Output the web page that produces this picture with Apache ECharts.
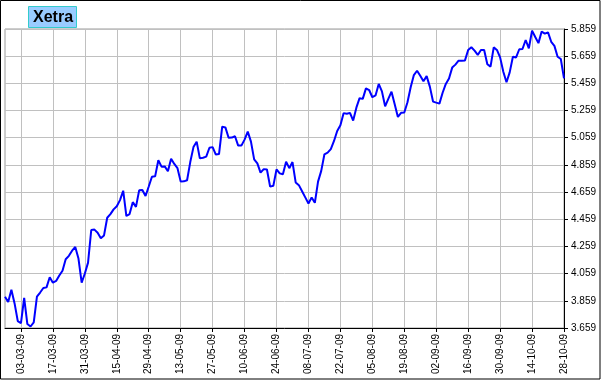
<!DOCTYPE html>
<html><head><meta charset="utf-8">
<script src="https://cdn.jsdelivr.net/npm/echarts@6/dist/echarts.min.js"></script>
<style>html,body{margin:0;padding:0;background:#fff}#c{width:601px;height:380px}</style>
</head><body><div id="c"></div>
<script>
const titleText = 'Xetra';

const dates = [
'24-02-09','25-02-09','26-02-09','27-02-09','02-03-09','03-03-09','04-03-09','05-03-09','06-03-09','09-03-09',
'10-03-09','11-03-09','12-03-09','13-03-09','16-03-09','17-03-09','18-03-09','19-03-09','20-03-09','23-03-09',
'24-03-09','25-03-09','26-03-09','27-03-09','30-03-09','31-03-09','01-04-09','02-04-09','03-04-09','06-04-09',
'07-04-09','08-04-09','09-04-09','13-04-09','14-04-09','15-04-09','16-04-09','17-04-09','20-04-09','21-04-09',
'22-04-09','23-04-09','24-04-09','27-04-09','28-04-09','29-04-09','30-04-09','01-05-09','04-05-09','05-05-09',
'06-05-09','07-05-09','08-05-09','11-05-09','12-05-09','13-05-09','14-05-09','15-05-09','18-05-09','19-05-09',
'20-05-09','21-05-09','22-05-09','25-05-09','26-05-09','27-05-09','28-05-09','29-05-09','01-06-09','02-06-09',
'03-06-09','04-06-09','05-06-09','08-06-09','09-06-09','10-06-09','11-06-09','12-06-09','15-06-09','16-06-09',
'17-06-09','18-06-09','19-06-09','22-06-09','23-06-09','24-06-09','25-06-09','26-06-09','29-06-09','30-06-09',
'01-07-09','02-07-09','03-07-09','06-07-09','07-07-09','08-07-09','09-07-09','10-07-09','13-07-09','14-07-09',
'15-07-09','16-07-09','17-07-09','20-07-09','21-07-09','22-07-09','23-07-09','24-07-09','27-07-09','28-07-09',
'29-07-09','30-07-09','31-07-09','03-08-09','04-08-09','05-08-09','06-08-09','07-08-09','10-08-09','11-08-09',
'12-08-09','13-08-09','14-08-09','17-08-09','18-08-09','19-08-09','20-08-09','21-08-09','24-08-09','25-08-09',
'26-08-09','27-08-09','28-08-09','31-08-09','01-09-09','02-09-09','03-09-09','04-09-09','07-09-09','08-09-09',
'09-09-09','10-09-09','11-09-09','14-09-09','15-09-09','16-09-09','17-09-09','18-09-09','21-09-09','22-09-09',
'23-09-09','24-09-09','25-09-09','28-09-09','29-09-09','30-09-09','01-10-09','02-10-09','05-10-09','06-10-09',
'07-10-09','08-10-09','09-10-09','12-10-09','13-10-09','14-10-09','15-10-09','16-10-09','19-10-09','20-10-09',
'21-10-09','22-10-09','23-10-09','26-10-09','27-10-09','28-10-09'
];

const values = [
3889,3850,3940,3840,3710,3694,3880,3688,3670,3700,
3890,3920,3953,3958,4032,3992,4005,4045,4080,4165,
4190,4228,4255,4170,3992,4060,4140,4380,4383,4360,
4320,4340,4470,4497,4532,4555,4600,4669,4483,4497,
4585,4550,4672,4675,4630,4700,4772,4775,4893,4846,
4848,4812,4905,4866,4835,4736,4738,4746,4880,4990,
5030,4907,4912,4920,4985,4990,4935,4939,5140,5135,
5059,5060,5070,5001,5001,5045,5104,5030,4900,4870,
4802,4828,4825,4699,4705,4826,4797,4790,4883,4835,
4880,4730,4710,4665,4620,4575,4620,4580,4736,4815,
4937,4949,4975,5035,5108,5150,5240,5236,5242,5185,
5280,5350,5345,5422,5410,5357,5370,5455,5400,5290,
5345,5398,5305,5212,5242,5245,5320,5430,5520,5552,
5515,5475,5512,5435,5325,5317,5310,5390,5455,5495,
5575,5597,5626,5626,5628,5704,5725,5700,5668,5705,
5704,5600,5582,5724,5705,5650,5545,5467,5540,5655,
5650,5710,5712,5778,5717,5847,5800,5755,5840,5825,
5834,5765,5735,5655,5638,5496
];

const yMin = 3659, yMax = 5859, yStep = 200;
const labelEvery = 10, labelOffset = 5;

const showIdx = (i) => (i - labelOffset) % labelEvery === 0 && i >= labelOffset;

const chart = echarts.init(document.getElementById('c'), null, {renderer: 'canvas'});
chart.setOption({
  animation: false,
  backgroundColor: '#ffffff',
  title: {
    text: titleText,
    left: 28, top: 6,
    padding: [2, 4, 1, 5],
    backgroundColor: '#99ccff',
    borderColor: '#33cccc',
    borderWidth: 1,
    textStyle: {fontFamily: 'Liberation Sans', fontWeight: 'bold', fontSize: 16, color: '#000', lineHeight: 19},
    z: 10
  },
  graphic: [{
    type: 'rect', z: 100, silent: true,
    shape: {x: 0.5, y: 0.5, width: 599.5, height: 378.5},
    style: {fill: 'none', stroke: '#000', lineWidth: 1}
  }],
  grid: {left: 5, right: 37, top: 29, bottom: 52, show: true, borderColor: '#9a9a9a', borderWidth: 1, backgroundColor: '#fff'},
  xAxis: {
    type: 'category',
    data: dates,
    boundaryGap: false,
    axisLine: {show: true, lineStyle: {color: '#000', width: 1}},
    axisTick: {show: true, length: 4, interval: (i) => showIdx(i), lineStyle: {color: '#000'}},
    axisLabel: {
      interval: (i) => showIdx(i), rotate: 90, margin: 6,
      fontFamily: 'Liberation Sans', fontSize: 10, color: '#000'
    },
    splitLine: {show: true, interval: (i) => showIdx(i), lineStyle: {color: '#c0c0c0', width: 1}}
  },
  yAxis: {
    type: 'value',
    position: 'right',
    min: yMin, max: yMax, interval: yStep,
    axisLine: {show: true, lineStyle: {color: '#000', width: 1}},
    axisTick: {show: true, length: 4, lineStyle: {color: '#000'}},
    axisLabel: {
      margin: 7, fontFamily: 'Liberation Sans', fontSize: 10, color: '#000',
      formatter: (v) => (v / 1000).toFixed(3)
    },
    splitLine: {show: true, lineStyle: {color: '#c0c0c0', width: 1}}
  },
  series: [{
    type: 'line',
    data: values,
    symbol: 'none',
    lineStyle: {color: '#0000ff', width: 2},
    z: 5
  }]
});
</script>
</body></html>
